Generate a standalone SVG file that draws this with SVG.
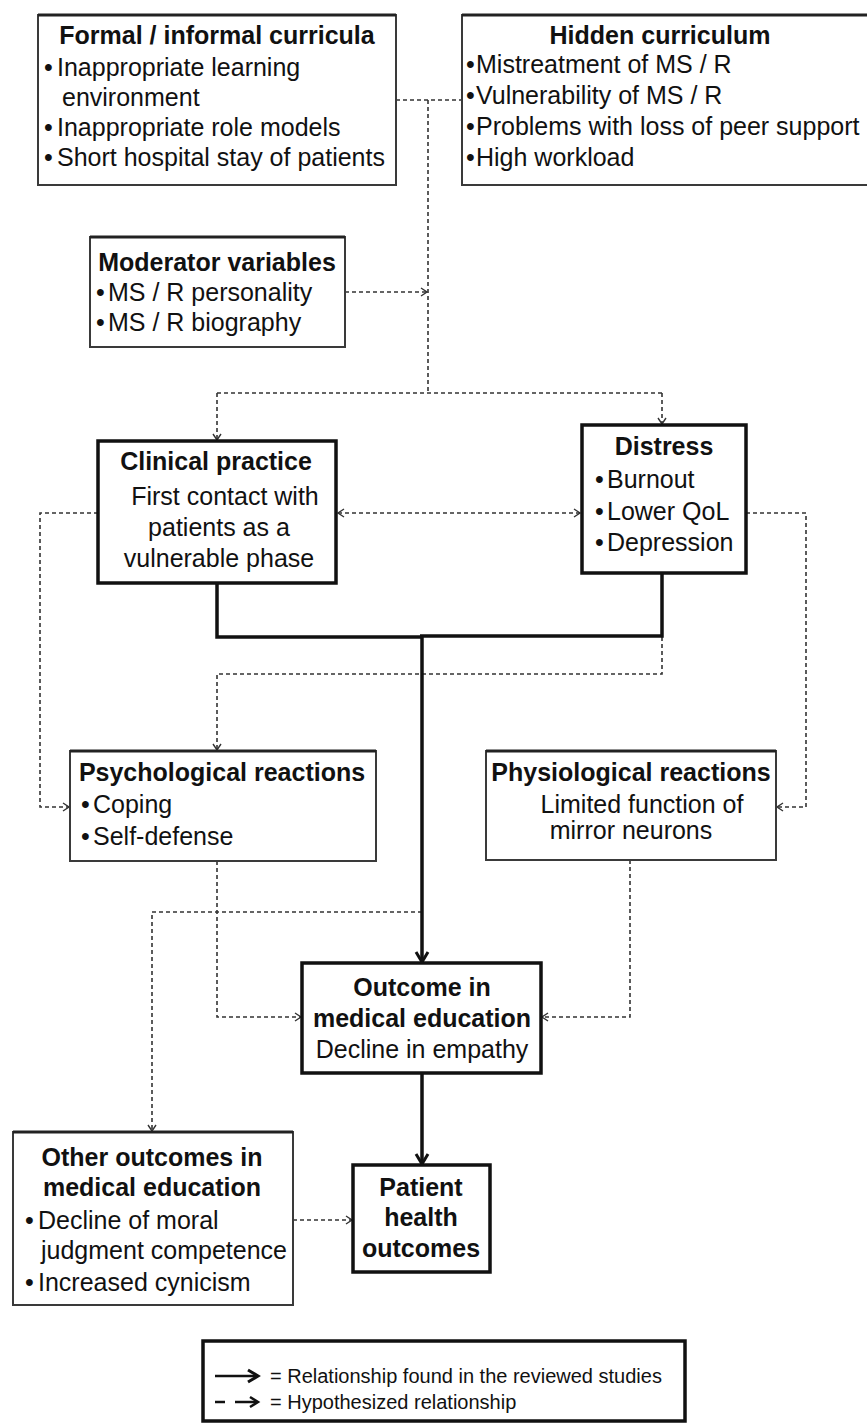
<svg xmlns="http://www.w3.org/2000/svg" width="867" height="1426" viewBox="0 0 867 1426">
<style>
  .t{font-family:"Liberation Sans",Arial,sans-serif;font-size:25px;fill:#111}
  .b{font-weight:bold}
  .m{text-anchor:middle}
  .box{fill:#fff;stroke:#3a3a3a;stroke-width:2}
  .topb{stroke:#222;stroke-width:3}
  .thick{fill:#fff;stroke:#111;stroke-width:3.5}
  .dash{fill:none;stroke:#333;stroke-width:1.6;stroke-dasharray:4 3}
  .solid{fill:none;stroke:#111;stroke-width:3.5}
  .lg{font-family:"Liberation Sans",Arial,sans-serif;font-size:20px;fill:#111}
</style>
<defs>
  <marker id="da" markerUnits="userSpaceOnUse" markerWidth="12" markerHeight="12" refX="9" refY="6" orient="auto">
    <path d="M3,2 L9,6 L3,10" fill="none" stroke="#333" stroke-width="1.4"/>
  </marker>
  <marker id="das" markerUnits="userSpaceOnUse" markerWidth="12" markerHeight="12" refX="3" refY="6" orient="auto">
    <path d="M9,2 L3,6 L9,10" fill="none" stroke="#333" stroke-width="1.4"/>
  </marker>
  <marker id="sa" markerUnits="userSpaceOnUse" markerWidth="18" markerHeight="18" refX="14" refY="9" orient="auto">
    <path d="M4,3 L14,9 L4,15" fill="none" stroke="#111" stroke-width="3"/>
  </marker>
</defs>

<g id="connectors">
  <path class="dash" d="M396,100 H462"/>
  <path class="dash" d="M428,100 V393"/>
  <path class="dash" d="M345,292 H427" marker-end="url(#da)"/>
  <path class="dash" d="M217,393 H662"/>
  <path class="dash" d="M217,393 V440" marker-end="url(#da)"/>
  <path class="dash" d="M662,393 V424" marker-end="url(#da)"/>
  <path class="dash" d="M338,513 H580" marker-start="url(#das)" marker-end="url(#da)"/>
  <path class="dash" d="M98,513 H40 V807 H69" marker-end="url(#da)"/>
  <path class="dash" d="M746,513 H806 V807 H777" marker-end="url(#da)"/>
  <path class="dash" d="M662,637 V674 H217 V750" marker-end="url(#da)"/>
  <path class="dash" d="M217,861 V1017 H301" marker-end="url(#da)"/>
  <path class="dash" d="M630,860 V1017 H542" marker-end="url(#da)"/>
  <path class="dash" d="M422,912 H152 V1131" marker-end="url(#da)"/>
  <path class="dash" d="M293,1220 H352" marker-end="url(#da)"/>
  <path class="solid" d="M217,583 V637 H422" stroke-width="4.5"/>
  <path class="solid" d="M420,636 H662 V573" stroke-width="3.2"/>
  <path class="solid" d="M422,637 V962" stroke-width="3" marker-end="url(#sa)"/>
  <path class="solid" d="M422,1073 V1164" stroke-width="3" marker-end="url(#sa)"/>
</g>

<g id="formal">
  <rect class="box" x="38" y="15" width="358" height="170"/>
  <line class="topb" x1="38" y1="15" x2="396" y2="15"/>
  <text class="t b m" x="217" y="44">Formal / informal curricula</text>
  <text class="t" x="44" y="76">•</text><text class="t" x="57" y="76">Inappropriate learning</text>
  <text class="t" x="62" y="106">environment</text>
  <text class="t" x="44" y="136">•</text><text class="t" x="57" y="136">Inappropriate role models</text>
  <text class="t" x="44" y="166">•</text><text class="t" x="57" y="166">Short hospital stay of patients</text>
</g>

<g id="hidden">
  <rect class="box" x="462" y="15" width="410" height="170"/>
  <line class="topb" x1="462" y1="15" x2="870" y2="15"/>
  <text class="t b m" x="660" y="44">Hidden curriculum</text>
  <text class="t" x="466" y="73">•</text><text class="t" x="476" y="73">Mistreatment of MS / R</text>
  <text class="t" x="466" y="104">•</text><text class="t" x="476" y="104">Vulnerability of MS / R</text>
  <text class="t" x="466" y="135">•</text><text class="t" x="476" y="135">Problems with loss of peer support</text>
  <text class="t" x="466" y="166">•</text><text class="t" x="476" y="166">High workload</text>
</g>

<g id="moderator">
  <rect class="box" x="90" y="237" width="255" height="110"/>
  <line class="topb" x1="90" y1="237" x2="345" y2="237"/>
  <text class="t b m" x="217" y="271">Moderator variables</text>
  <text class="t" x="96" y="301">•</text><text class="t" x="108" y="301">MS / R personality</text>
  <text class="t" x="96" y="331">•</text><text class="t" x="108" y="331">MS / R biography</text>
</g>

<g id="clinical">
  <rect class="thick" x="98" y="441" width="238" height="142"/>
  <text class="t b m" x="216" y="470">Clinical practice</text>
  <text class="t m" x="225" y="505">First contact with</text>
  <text class="t m" x="219" y="536">patients as a</text>
  <text class="t m" x="219" y="567">vulnerable phase</text>
</g>

<g id="distress">
  <rect class="thick" x="582" y="425" width="164" height="148"/>
  <text class="t b m" x="664" y="455">Distress</text>
  <text class="t" x="595" y="488">•</text><text class="t" x="607" y="488">Burnout</text>
  <text class="t" x="595" y="520">•</text><text class="t" x="607" y="520">Lower QoL</text>
  <text class="t" x="595" y="551">•</text><text class="t" x="607" y="551">Depression</text>
</g>

<g id="psychological">
  <rect class="box" x="70" y="751" width="306" height="110"/>
  <line class="topb" x1="70" y1="751" x2="376" y2="751"/>
  <text class="t b m" x="222" y="781">Psychological reactions</text>
  <text class="t" x="81" y="813">•</text><text class="t" x="93" y="813">Coping</text>
  <text class="t" x="81" y="845">•</text><text class="t" x="93" y="845">Self-defense</text>
</g>

<g id="physiological">
  <rect class="box" x="486" y="751" width="290" height="109"/>
  <line class="topb" x1="486" y1="751" x2="776" y2="751"/>
  <text class="t b m" x="631" y="781">Physiological reactions</text>
  <text class="t m" x="642" y="813">Limited function of</text>
  <text class="t m" x="631" y="839">mirror neurons</text>
</g>

<g id="outcome">
  <rect class="thick" x="302" y="963" width="239" height="110"/>
  <text class="t b m" x="422" y="996">Outcome in</text>
  <text class="t b m" x="422" y="1027">medical education</text>
  <text class="t m" x="422" y="1058">Decline in empathy</text>
</g>

<g id="other">
  <rect class="box" x="13" y="1132" width="280" height="173"/>
  <line class="topb" x1="13" y1="1132" x2="293" y2="1132"/>
  <text class="t b m" x="152" y="1166">Other outcomes in</text>
  <text class="t b m" x="152" y="1196">medical education</text>
  <text class="t" x="25" y="1229">•</text><text class="t" x="38" y="1229">Decline of moral</text>
  <text class="t" x="41" y="1259">judgment competence</text>
  <text class="t" x="25" y="1291">•</text><text class="t" x="38" y="1291">Increased cynicism</text>
</g>

<g id="patient">
  <rect class="thick" x="353" y="1165" width="137" height="107"/>
  <text class="t b m" x="421" y="1196">Patient</text>
  <text class="t b m" x="421" y="1226">health</text>
  <text class="t b m" x="421" y="1257">outcomes</text>
</g>

<g id="legend">
  <rect class="thick" x="203" y="1341" width="482" height="80"/>
  <path d="M215,1376 H258" fill="none" stroke="#111" stroke-width="2.5" marker-end="url(#sa)"/>
  <text class="lg" x="270" y="1383">= Relationship found in the reviewed studies</text>
  <path d="M215,1402 H225 M235,1402 H257" fill="none" stroke="#111" stroke-width="2.5"/>
  <path d="M250,1397 L258,1402 L250,1407" fill="none" stroke="#111" stroke-width="2.5"/>
  <text class="lg" x="270" y="1409">= Hypothesized relationship</text>
</g>
</svg>
